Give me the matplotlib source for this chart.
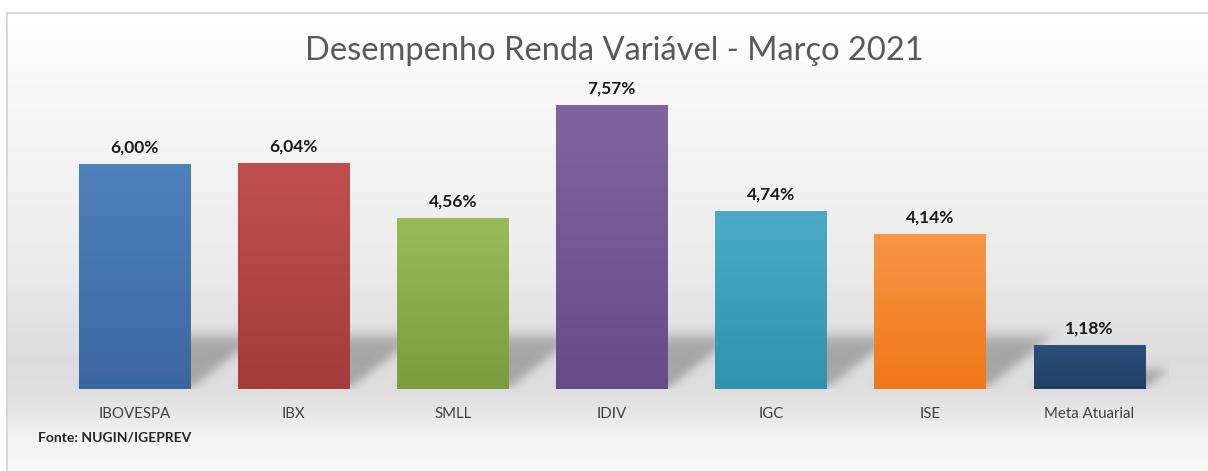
import matplotlib.pyplot as plt
import numpy as np
from matplotlib.colors import to_rgb

plt.rcParams['font.family'] = ['Lato', 'DejaVu Sans']

categories = ["IBOVESPA", "IBX", "SMLL", "IDIV", "IGC", "ISE", "Meta Atuarial"]
values = [6.00, 6.04, 4.56, 7.57, 4.74, 4.14, 1.18]
value_labels = ["6,00%", "6,04%", "4,56%", "7,57%", "4,74%", "4,14%", "1,18%"]
top_colors = ["#4f81bd", "#c0504d", "#9bbb59", "#8064a2", "#4bacc6", "#f79646", "#2c4f7c"]
bottom_colors = ["#3a67a0", "#a33c3a", "#7a9c3c", "#654c88", "#2f93ad", "#f07818", "#203f66"]

W, H = 1208, 471
fig = plt.figure(figsize=(W / 100, H / 100), dpi=100)

# background gradient + frame
bg = fig.add_axes([0, 0, 1, 1], zorder=0)
bg.set_xlim(0, W)
bg.set_ylim(H, 0)
bg.axis('off')
ys = np.linspace(13, H, 300)
g = np.interp(ys, [13, 120, 260, 360, 395, 440, 471], [1.0, 0.965, 0.925, 0.865, 0.875, 0.955, 0.975])
img = np.dstack([np.repeat(g[:, None], 2, axis=1)] * 3)
bg.imshow(img, extent=(7, W, H, 13), aspect='auto', interpolation='bilinear')
bg.plot([7, 7], [13, H], color='#d4d4d4', lw=1.2)
bg.plot([7, W], [13, 13], color='#d4d4d4', lw=1.2)

ax = fig.add_axes([54.9 / W, (H - 389) / H, 1114 / W, 300 / H], zorder=1)
ax.patch.set_visible(False)
x = np.arange(len(categories))
bars = ax.bar(x, values, width=0.70, color=top_colors, zorder=3)

# soft shadows behind the bars
nx, ny = 1114, 300
X, Y = np.meshgrid(np.linspace(-0.5, 6.5, nx), np.linspace(0, 8, ny))
A = np.zeros_like(X)
for b in bars:
    xl, w, h = b.get_x(), b.get_width(), b.get_height()
    ytop = min(1.6, 0.5 * h)
    s = 0.3 * Y
    inside = (Y <= ytop) & (X >= xl + s) & (X <= xl + w + s)
    fade = np.clip((ytop - Y) / (0.25 * ytop), 0, 1)
    A = np.maximum(A, inside * fade)


def blur(a, r):
    k = np.ones(2 * r + 1) / (2 * r + 1)
    a = np.apply_along_axis(lambda m: np.convolve(m, k, mode='same'), 0, a)
    a = np.apply_along_axis(lambda m: np.convolve(m, k, mode='same'), 1, a)
    return a


A = blur(blur(A, 5), 5)
shadow = np.zeros((ny, nx, 4))
shadow[..., :3] = 0.3
shadow[..., 3] = 0.38 * A
ax.imshow(shadow, extent=(-0.5, 6.5, 0, 8), origin='lower', aspect='auto', zorder=1)

# vertical gradient inside each bar
for b, ct, cb in zip(bars, top_colors, bottom_colors):
    t = np.linspace(0, 1, 100)[:, None, None]
    c = np.array(to_rgb(cb)) * (1 - t) + np.array(to_rgb(ct)) * t
    im = ax.imshow(c, extent=(b.get_x(), b.get_x() + b.get_width(), 0, b.get_height()),
                   origin='lower', aspect='auto', zorder=3)
    im.set_clip_path(b)

for b, lbl in zip(bars, value_labels):
    ax.annotate(lbl, (b.get_x() + b.get_width() / 2, b.get_height()), xytext=(0, 6),
                textcoords='offset points', ha='center', va='bottom',
                fontsize=12.5, fontweight='bold', color='#1a1a1a')

ax.set_xlim(-0.5, 6.5)
ax.set_ylim(0, 8)
ax.set_xticks(x, categories)
ax.set_yticks([])
ax.tick_params(axis='x', length=0, pad=13, labelsize=10.8, labelcolor='#404040')
for sp in ax.spines.values():
    sp.set_visible(False)

fig.text(614 / W, 1 - 51 / H, "Desempenho Renda Variável - Março 2021", ha='center', va='center',
         fontsize=23.5, color='#595959')
fig.text(38 / W, 1 - 437 / H, "Fonte: NUGIN/IGEPREV", ha='left', va='center',
         fontsize=10, fontweight='bold', color='#262626')

fig.savefig('out.png', dpi=100)
